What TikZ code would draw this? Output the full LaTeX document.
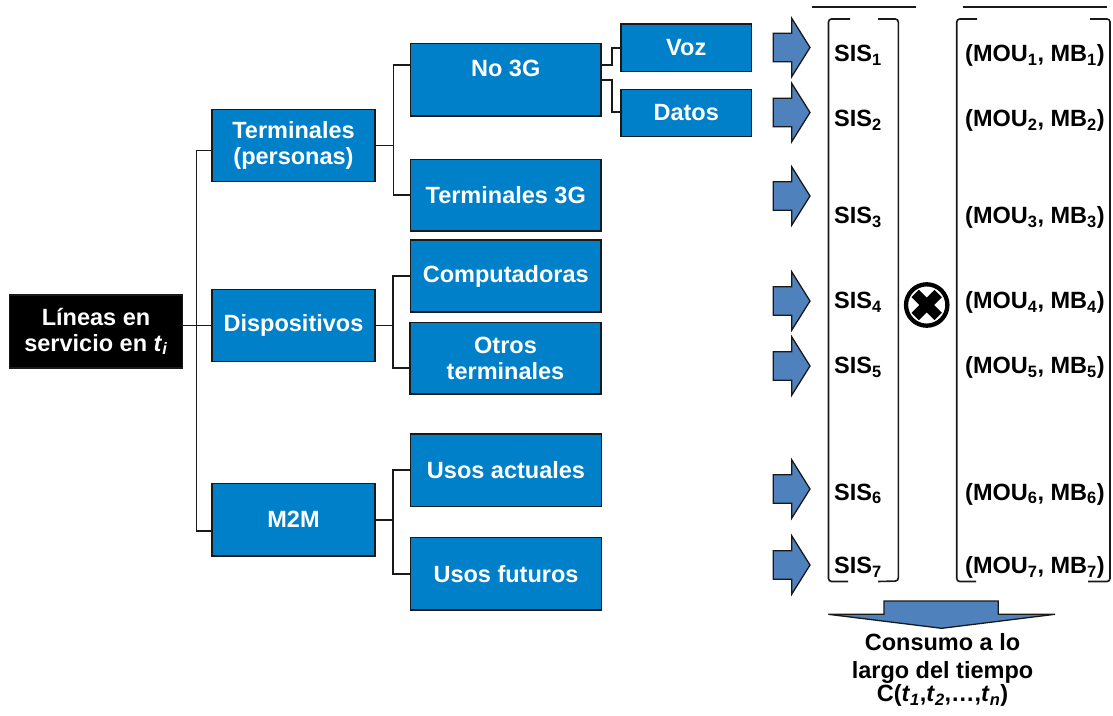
\documentclass[tikz,border=0pt]{standalone}
\usepackage{fontspec}
\setmainfont{Liberation Sans}
\usetikzlibrary{calc}
\definecolor{boxblue}{RGB}{0,128,200}
\definecolor{arrowblue}{RGB}{79,129,189}
\definecolor{linegray}{RGB}{25,25,25}

\begin{document}
\begin{tikzpicture}[x=1pt,y=-1pt,
  font=\fontsize{23.5}{25.5}\selectfont\bfseries,
  bbox/.style={draw=black!90, line width=1.7pt, fill=boxblue, text=white,
               align=center, inner sep=0pt},
  rootbox/.style={bbox, fill=black},
  link/.style={draw=linegray, line width=1.7pt},
  brk/.style={draw=linegray, line width=1.6pt, rounded corners=3pt},
  blockarrow/.style={fill=arrowblue, draw=linegray, line width=1.3pt, line join=miter},
  lbl/.style={inner sep=0pt, anchor=base west, text=black},
  rarrow/.pic={
    \path[blockarrow] (0,-14.2) -- (18.4,-14.2) -- (18.4,-29.2) -- (36.7,0)
      -- (18.4,29.2) -- (18.4,14.2) -- (0,14.2) -- cycle;
  }]
\useasboundingbox (0,0) rectangle (1113,715);

% ---------- tree of boxes ----------
\node[rootbox, minimum width=173pt, minimum height=73pt] (root) at (96,331.5)
  {Líneas en\\servicio en \textit{t}\textsubscript{\textit{i}}};

\node[bbox, minimum width=163pt, minimum height=72pt] (term) at (293.5,145.5)
  {Terminales\\(personas)};
\node[bbox, minimum width=163pt, minimum height=72pt] (disp) at (293.5,325.5)
  {Dispositivos};
\node[bbox, minimum width=163pt, minimum height=72.5pt] (m2m) at (293.5,519.75)
  {M2M};

\node[bbox, minimum width=190.5pt, minimum height=72.5pt] (no3g) at (505.75,79.75) {};
\node[inner sep=0pt, anchor=base, text=white] (no3gtext) at (505.75,76) {No 3G};
\node[bbox, minimum width=190.5pt, minimum height=71.5pt] (t3g) at (505.75,195.25)
  {Terminales 3G};
\node[bbox, minimum width=190.5pt, minimum height=72pt] (comp) at (505.75,276)
  {Computadoras};
\node[bbox, minimum width=191pt, minimum height=71.5pt] (otros) at (505.5,358.25)
  {Otros\\terminales};
\node[bbox, minimum width=191pt, minimum height=72.5pt] (usosA) at (506,470.25)
  {Usos actuales};
\node[bbox, minimum width=191pt, minimum height=72.5pt] (usosF) at (506,573.75)
  {Usos futuros};

\node[bbox, minimum width=130.5pt, minimum height=47.5pt] (voz) at (686.25,47.75)
  {Voz};
\node[bbox, minimum width=130.5pt, minimum height=47pt] (datos) at (686.25,113)
  {Datos};

% ---------- elbow connectors ----------
\draw[link] (root.east |- disp.west) -- (disp.west);
\draw[link] ([yshift=-5pt]term.west) -- ++(-14.7,0) |- ([yshift=-11pt]m2m.west);

\draw[link] (term.east) -- ++(17.5,0) coordinate (j1);
\draw[link] ([yshift=14.75pt]no3g.west) -| (j1) |- (t3g.west);

\draw[link] ([yshift=14.5pt]no3g.east) -- ++(10,0) |- (voz.west);
\draw[link] (no3g.east) -- ++(10,0) |- ([yshift=1.3pt]datos.west);

\draw[link] (disp.east) -- ++(17,0) coordinate (j2);
\draw[link] (comp.west) -| (j2) |- ([yshift=-9.5pt]otros.west);

\draw[link] (m2m.east) -- ++(17.3,0) coordinate (j3);
\draw[link] (usosA.west) -| (j3) |- (usosF.west);

% ---------- block arrows into the vector ----------
\foreach \yy in {47.5,112.5,196,301,366,489,565}
  \pic at (773.3,\yy) {rarrow};

% ---------- vector of SIS values ----------
\draw[brk] (850,19) -- (828.5,19) -- (828.5,581.5) -- (848,581.5);
\draw[brk] (878,19) -- (898.3,19) -- (898.3,581) -- (878,581.5);
\draw[link, line width=1.6pt] (811.7,6.7) -- (916,6.7);

\node[lbl] (sis1) at (834,61.7)  {SIS\textsubscript{1}};
\node[lbl] (sis2) at (834,126.7) {SIS\textsubscript{2}};
\node[lbl] (sis3) at (834,223.3) {SIS\textsubscript{3}};
\node[lbl] (sis4) at (834,308.3) {SIS\textsubscript{4}};
\node[lbl] (sis5) at (834,373.3) {SIS\textsubscript{5}};
\node[lbl] (sis6) at (834,500)   {SIS\textsubscript{6}};
\node[lbl] (sis7) at (834,573.3) {SIS\textsubscript{7}};

% ---------- product symbol ----------
\node[circle, draw=black, fill=white, line width=4.3pt, minimum size=41.4pt,
      inner sep=0pt] (prod) at (926.7,305) {};
\draw[line width=10.5pt, line cap=butt]
  ($(prod.center)+(-11.5,-11.5)$) -- ($(prod.center)+(11.5,11.5)$)
  ($(prod.center)+(-11.5,11.5)$) -- ($(prod.center)+(11.5,-11.5)$);

% ---------- vector of (MOU, MB) pairs ----------
\draw[brk] (977,19) -- (956.7,19) -- (956.7,581.5) -- (976,581.5);
\draw[brk] (1090,19) -- (1110,19) -- (1110,581.5) -- (1088,581.5);
\draw[link, line width=1.6pt] (963.3,6.7) -- (1106.7,6.7);

\node[lbl] (mou1) at (965,61.7)  {(MOU\textsubscript{1}, MB\textsubscript{1})};
\node[lbl] (mou2) at (965,126.7) {(MOU\textsubscript{2}, MB\textsubscript{2})};
\node[lbl] (mou3) at (965,223.3) {(MOU\textsubscript{3}, MB\textsubscript{3})};
\node[lbl] (mou4) at (965,308.3) {(MOU\textsubscript{4}, MB\textsubscript{4})};
\node[lbl] (mou5) at (965,373.3) {(MOU\textsubscript{5}, MB\textsubscript{5})};
\node[lbl] (mou6) at (965,500)   {(MOU\textsubscript{6}, MB\textsubscript{6})};
\node[lbl] (mou7) at (965,573.3) {(MOU\textsubscript{7}, MB\textsubscript{7})};

% ---------- result arrow and caption ----------
\path[blockarrow] (884,601) -- (998.3,601) -- (998.3,614.3) -- (1055,614.3)
  -- (941.7,628.3) -- (828.3,614.3) -- (884,614.3) -- cycle;

\node[inner sep=0pt, anchor=base] (cons1) at (942.5,650) {Consumo a lo};
\node[inner sep=0pt, anchor=base] (cons2) at (942.5,678) {largo del tiempo};
\node[inner sep=0pt, anchor=base] (cons3) at (942.5,701.7)
  {C(\textit{t}\textsubscript{\textit{1}},\textit{t}\textsubscript{\textit{2}},…,\textit{t}\textsubscript{\textit{n}})};
\end{tikzpicture}
\end{document}
